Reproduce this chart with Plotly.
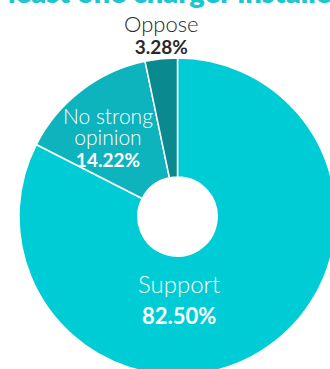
import plotly.graph_objects as go

# Survey response shares
labels = ["Support", "No strong opinion", "Oppose"]
values = [82.50, 14.22, 3.28]
colors = ["#00CCD6", "#0DB3BD", "#0A8A8F"]
title_text = "least one charger installed"

# figure geometry (pixels)
W, H = 340, 380
ML, MR, MT, MB = 19, 4, 58, 5
PW, PH = W - ML - MR, H - MT - MB

FONT = "Lato"


def px(x, y):
    """Pixel position -> paper coordinates."""
    return (x - ML) / PW, 1 - (y - MT) / PH


fig = go.Figure(
    go.Pie(
        labels=labels,
        values=values,
        hole=0.25,
        sort=False,
        direction="clockwise",
        rotation=0,
        marker=dict(colors=colors, line=dict(color="white", width=1.5)),
        textinfo="none",
        hoverinfo="label+percent",
        showlegend=False,
    )
)

annotations = []


def add_label(name_lines, pct, x, y, name_size, pct_size, line_size, color):
    """One slice label: light name line(s) above a bold percentage.

    line_size sets the annotation font size, which drives the line spacing.
    """
    parts = [f'<span style="font-size:{name_size}px">{t}</span>' for t in name_lines]
    parts.append(f'<span style="font-size:{pct_size}px"><b>{pct}</b></span>')
    ax, ay = px(x, y)
    annotations.append(dict(
        text="<br>".join(parts), x=ax, y=ay, xref="paper", yref="paper",
        xanchor="center", yanchor="middle", showarrow=False, align="center",
        font=dict(family=FONT, size=line_size, color=color, weight=300),
    ))


pct = [f"{v:.2f}%" for v in values]

add_label([labels[0]], pct[0], 179, 299, 24, 22, 24, "white")
add_label(["No strong", "opinion"], pct[1], 108, 137, 21, 19, 16.5, "white")
add_label([labels[2]], pct[2], 161, 34, 22, 19, 17, "#2a2a2a")

# heading, partly above the visible area
hx, hy = px(178, -9)
annotations.append(dict(
    text=title_text, x=hx, y=hy, xref="paper", yref="paper",
    xanchor="center", yanchor="middle", showarrow=False,
    font=dict(family=FONT, size=29, color="#1CC6D0", weight=800),
))

fig.update_layout(
    width=W, height=H,
    margin=dict(l=ML, r=MR, t=MT, b=MB, pad=0),
    paper_bgcolor="white", plot_bgcolor="white",
    annotations=annotations,
)

fig.write_html(
    "out.html",
    config={"displayModeBar": False},
    post_script=(
        "document.documentElement.style.overflow='hidden';"
        "document.body.style.overflow='hidden';"
        "document.body.style.margin='0';"
    ),
)
